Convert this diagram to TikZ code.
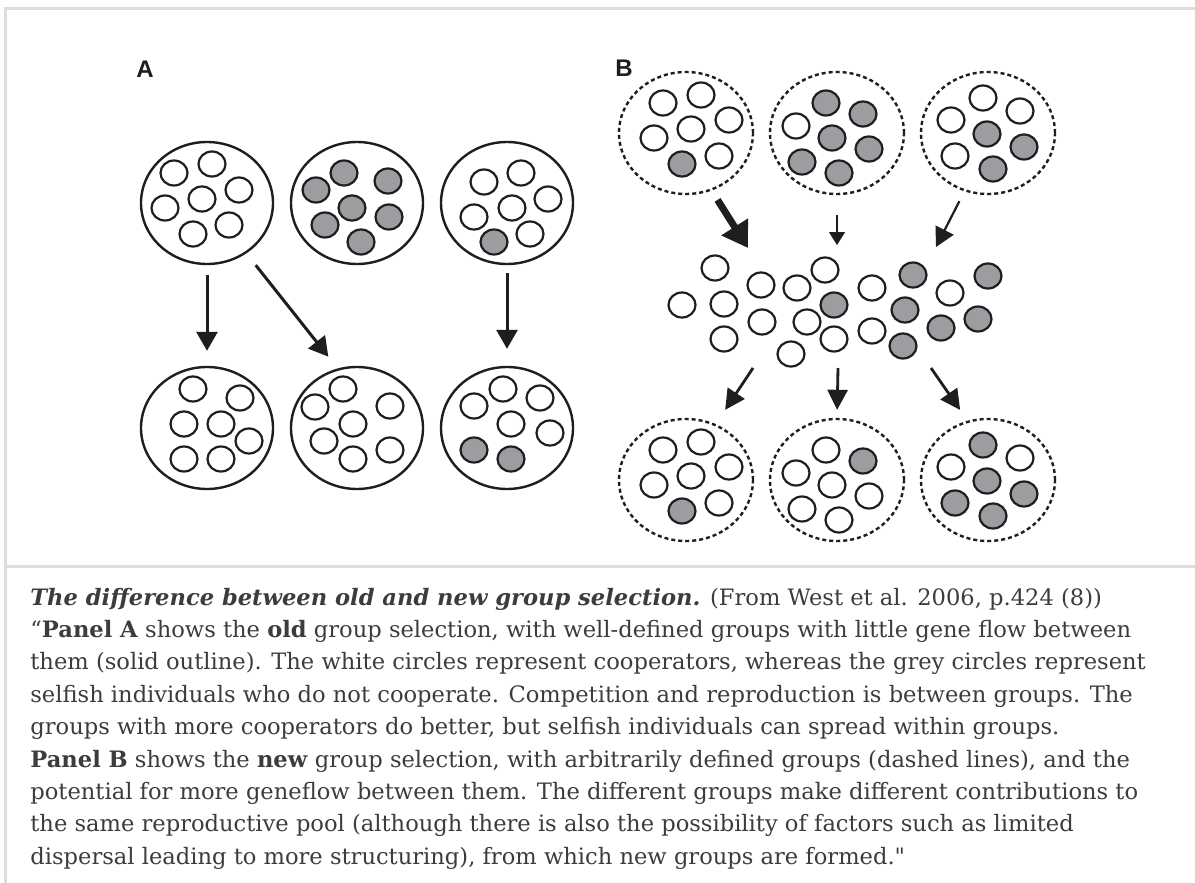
\documentclass[tikz,border=0pt]{standalone}
\usepackage{fontspec}
\setmainfont{DejaVu Serif}
\newfontfamily\panelfont{Liberation Sans}
\usepackage{tikz}
\usetikzlibrary{shapes,arrows.meta}

\definecolor{ink}{HTML}{1E1E1E}
\definecolor{selfgrey}{HTML}{9D9DA1}
\definecolor{framegrey}{HTML}{DDDDDD}
\definecolor{captext}{HTML}{3C3C3C}

\tikzstyle{solidgroup} = [draw=ink, line width=1.2pt, ellipse, minimum width=66pt, minimum height=61pt, inner sep=0pt]
\tikzstyle{dashgroup} = [solidgroup, dash pattern=on 2pt off 1.5pt, minimum width=67pt]
\tikzstyle{coop} = [draw=ink, line width=1.1pt, fill=white, ellipse, minimum width=13.5pt, minimum height=12.5pt, inner sep=0pt]
\tikzstyle{selfish} = [coop, fill=selfgrey]
\tikzstyle{arrow} = [draw=ink, line width=1.5pt, -{Triangle[length=9.5pt,width=10.5pt]}]
\tikzstyle{bigarrow} = [draw=ink, line width=3.5pt, -{Triangle[length=12.5pt,width=15pt]}]
\tikzstyle{thinarrow} = [draw=ink, line width=0.8pt, -{Triangle[length=6.5pt,width=8pt]}]
\tikzstyle{midarrow} = [draw=ink, line width=1.1pt, -{Triangle[length=9.5pt,width=10pt]}]
\tikzstyle{outarrow} = [draw=ink, line width=1.4pt, -{Triangle[length=10pt,width=10pt]}]
\tikzstyle{panellabel} = [text=ink, font=\panelfont\bfseries\fontsize{12}{14}\selectfont]
\tikzstyle{caption} = [anchor=base west, inner sep=0pt, text=captext, font=\fontsize{11.3}{13}\selectfont]

\begin{document}
\begin{tikzpicture}[x=0.5pt, y=-0.5pt]
    % Bounding box
    \fill[white] (0,0) rectangle (1195,883);
    \useasboundingbox (0,0) rectangle (1195,883);

    % Frame
    \draw[framegrey, line width=1.5pt] (5,883) -- (5,9) -- (1195,9);
    \draw[framegrey, line width=1.5pt] (5,566) -- (1195,566);

    % Panel labels
    \node[panellabel] (labA) at (145,69) {A};
    \node[panellabel] (labB) at (624,68) {B};

    % Panel A: old groups (solid outline)
    \node[solidgroup] (a1) at (207,203) {};
    \node[solidgroup] (a2) at (357,203) {};
    \node[solidgroup] (a3) at (507,203) {};
    \node[solidgroup] (b1) at (207,428) {};
    \node[solidgroup] (b2) at (357,428) {};
    \node[solidgroup] (b3) at (507,428) {};

    \begin{scope}[shift={(a1)}]
        \foreach \dx/\dy/\kind in {-33/-30/coop, 5/-39/coop, 32/-13/coop, -42/5/coop, -5/-4/coop, 22/22/coop, -14/31/coop}
            \node[\kind] at (\dx,\dy) {};
    \end{scope}
    \begin{scope}[shift={(a2)}]
        \foreach \dx/\dy/\kind in {-13/-30/selfish, 31/-22/selfish, -41/-13/selfish, -5/5/selfish, 32/14/selfish, -32/22/selfish, 4/39/selfish}
            \node[\kind] at (\dx,\dy) {};
    \end{scope}
    \begin{scope}[shift={(a3)}]
        \foreach \dx/\dy/\kind in {-23/-21/coop, 14/-30/coop, 41/-4/coop, -33/14/coop, 5/5/coop, 23/31/coop, -13/39/selfish}
            \node[\kind] at (\dx,\dy) {};
    \end{scope}
    \begin{scope}[shift={(b1)}]
        \foreach \dx/\dy/\kind in {-14/-39/coop, 33/-30/coop, -23/-4/coop, 14/-4/coop, 42/13/coop, -23/31/coop, 14/31/coop}
            \node[\kind] at (\dx,\dy) {};
    \end{scope}
    \begin{scope}[shift={(b2)}]
        \foreach \dx/\dy/\kind in {-14/-39/coop, -42/-21/coop, 33/-22/coop, -4/-4/coop, -33/13/coop, 33/22/coop, -4/31/coop}
            \node[\kind] at (\dx,\dy) {};
    \end{scope}
    \begin{scope}[shift={(b3)}]
        \foreach \dx/\dy/\kind in {-4/-39/coop, -33/-22/coop, 33/-30/coop, 4/-4/coop, 43/5/coop, -33/22/selfish, 4/31/selfish}
            \node[\kind] at (\dx,\dy) {};
    \end{scope}

    % Panel A: edges
    \draw[arrow, shorten <=5pt, shorten >=7.5pt] (a1.south) -- (b1.north);
    \draw[arrow, shorten <=7.5pt, shorten >=7.5pt] (a1.-52) -- (b2.108);
    \draw[arrow, shorten <=4pt, shorten >=8.5pt] (a3.south) -- (b3.north);

    % Panel B: new groups (dashed outline)
    \node[dashgroup] (t1) at (686,133) {};
    \node[dashgroup] (t2) at (837,133) {};
    \node[dashgroup] (t3) at (988,133) {};
    \node[dashgroup] (n1) at (686,480) {};
    \node[dashgroup] (n2) at (837,480) {};
    \node[dashgroup] (n3) at (988,480) {};

    \begin{scope}[shift={(t1)}]
        \foreach \dx/\dy/\kind in {-23/-30/coop, 15/-38/coop, 43/-13/coop, -32/5/coop, 5/-4/coop, 33/23/coop, -4/31/selfish}
            \node[\kind] at (\dx,\dy) {};
    \end{scope}
    \begin{scope}[shift={(t2)}]
        \foreach \dx/\dy/\kind in {-11/-30/selfish, 26/-19/selfish, -41/-7/coop, -5/5/selfish, 32/16/selfish, -35/29/selfish, 2/40/selfish}
            \node[\kind] at (\dx,\dy) {};
    \end{scope}
    \begin{scope}[shift={(t3)}]
        \foreach \dx/\dy/\kind in {-5/-35/coop, 32/-22/coop, -37/-13/coop, -1/1/selfish, 36/14/selfish, -33/23/coop, 5/36/selfish}
            \node[\kind] at (\dx,\dy) {};
    \end{scope}
    \begin{scope}[shift={(n1)}]
        \foreach \dx/\dy/\kind in {-23/-30/coop, 15/-38/coop, 43/-13/coop, -32/5/coop, 5/-4/coop, 33/23/coop, -4/31/selfish}
            \node[\kind] at (\dx,\dy) {};
    \end{scope}
    \begin{scope}[shift={(n2)}]
        \foreach \dx/\dy/\kind in {-11/-30/coop, 26/-19/selfish, -41/-7/coop, -5/5/coop, 32/16/coop, -35/29/coop, 2/40/coop}
            \node[\kind] at (\dx,\dy) {};
    \end{scope}
    \begin{scope}[shift={(n3)}]
        \foreach \dx/\dy/\kind in {-5/-35/selfish, 32/-22/coop, -37/-13/coop, -1/1/selfish, 36/14/selfish, -33/23/selfish, 5/36/selfish}
            \node[\kind] at (\dx,\dy) {};
    \end{scope}

    % Panel B: reproductive pool
    \foreach \x/\y/\kind [count=\i] in {715/268/coop, 682/305/coop, 724/304/coop, 761/285/coop, 797/288/coop,
        825/270/coop, 724/339/coop, 762/322/coop, 807/322/coop, 791/354/coop, 834/339/coop, 872/288/coop,
        872/331/coop, 950/293/coop, 834/305/selfish, 913/275/selfish, 905/310/selfish, 903/346/selfish,
        941/328/selfish, 988/276/selfish, 978/319/selfish}
        \node[\kind] (p\i) at (\x,\y) {};

    \coordinate (in1) at (748,248);
    \coordinate (in2) at (837,245);
    \coordinate (in3) at (936,247);
    \coordinate (out1) at (753,368);
    \coordinate (out2) at (838,368);
    \coordinate (out3) at (931,368);

    % Panel B: edges
    \draw[bigarrow, shorten <=5.5pt] (t1.-66) -- (in1);   % large contribution
    \draw[thinarrow, shorten <=10pt] (t2.south) -- (in2); % small contribution
    \draw[midarrow, shorten <=5.5pt] (t3.-112) -- (in3);
    \draw[outarrow, shorten >=8.5pt] (out1) -- (n1.62);
    \draw[outarrow, shorten >=4pt] (out2) -- (n2.north);
    \draw[outarrow, shorten >=6.5pt] (out3) -- (n3.109);

    % Caption
    \node[caption] (cap1) at (30,605) {\textbf{\textit{The difference between old and new group selection.}} (From West et al. 2006, p.424 (8))};
    \node[caption] (cap2) at (30,637.4) {“\textbf{Panel A} shows the \textbf{old} group selection, with well-defined groups with little gene flow between};
    \node[caption] (cap3) at (30,669.8) {them (solid outline). The white circles represent cooperators, whereas the grey circles represent};
    \node[caption] (cap4) at (30,702.2) {selfish individuals who do not cooperate. Competition and reproduction is between groups. The};
    \node[caption] (cap5) at (30,734.6) {groups with more cooperators do better, but selfish individuals can spread within groups.};
    \node[caption] (cap6) at (30,767) {\textbf{Panel B} shows the \textbf{new} group selection, with arbitrarily defined groups (dashed lines), and the};
    \node[caption] (cap7) at (30,799.4) {potential for more geneflow between them. The different groups make different contributions to};
    \node[caption] (cap8) at (30,831.8) {the same reproductive pool (although there is also the possibility of factors such as limited};
    \node[caption] (cap9) at (30,864.2) {dispersal leading to more structuring), from which new groups are formed.\textquotedbl};

\end{tikzpicture}
\end{document}
